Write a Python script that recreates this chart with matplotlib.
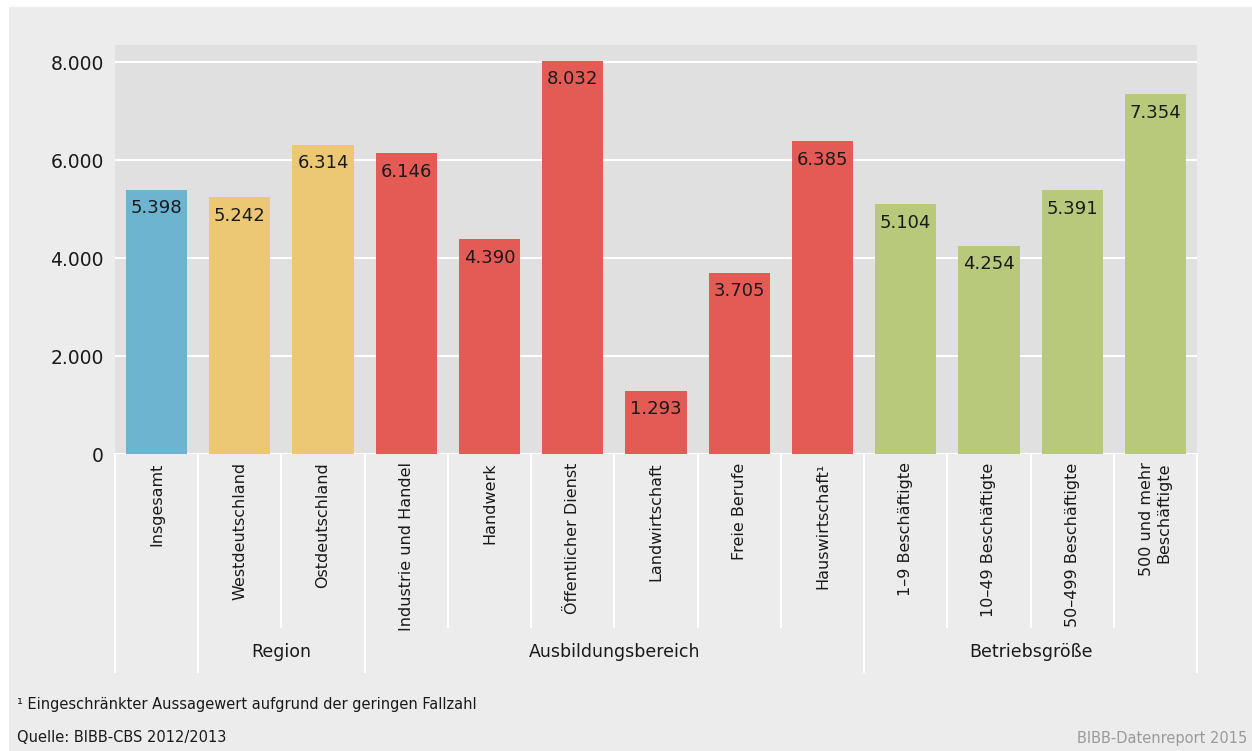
import matplotlib
matplotlib.use("Agg")
import matplotlib.pyplot as plt
from matplotlib import font_manager
from matplotlib.patches import Rectangle
from matplotlib.transforms import blended_transform_factory

# ---- data ----
categories = ["Insgesamt", "Westdeutschland", "Ostdeutschland", "Industrie und Handel",
              "Handwerk", "Öffentlicher Dienst", "Landwirtschaft", "Freie Berufe",
              "Hauswirtschaft\u00b9", "1\u20139 Beschäftigte", "10\u201349 Beschäftigte",
              "50\u2013499 Beschäftigte", "500 und mehr\nBeschäftigte"]
values = [5398, 5242, 6314, 6146, 4390, 8032, 1293, 3705, 6385, 5104, 4254, 5391, 7354]
value_labels = ["5.398", "5.242", "6.314", "6.146", "4.390", "8.032", "1.293", "3.705",
                "6.385", "5.104", "4.254", "5.391", "7.354"]
groups = ["gesamt", "region", "region", "bereich", "bereich", "bereich", "bereich",
          "bereich", "bereich", "groesse", "groesse", "groesse", "groesse"]
group_names = {"region": "Region", "bereich": "Ausbildungsbereich", "groesse": "Betriebsgröße"}
yticks = [0, 2000, 4000, 6000, 8000]
ytick_labels = ["0", "2.000", "4.000", "6.000", "8.000"]

colors = {"gesamt": "#6db4d1", "region": "#ecc874", "bereich": "#e45b56", "groesse": "#b9c97b"}

# ---- font ----
names = {f.name for f in font_manager.fontManager.ttflist}
if "Liberation Sans Narrow" in names:
    plt.rcParams["font.family"] = "Liberation Sans Narrow"
elif "DejaVu Sans Condensed" in names:
    plt.rcParams["font.family"] = "DejaVu Sans Condensed"
else:
    plt.rcParams["font.family"] = "DejaVu Sans"

W, H = 1252, 751
fig = plt.figure(figsize=(W / 100, H / 100), dpi=100, facecolor="white")
fig.patches.append(Rectangle((9 / W, 0), 1 - 9 / W, 1 - 7 / H, transform=fig.transFigure,
                             facecolor="#ececec", edgecolor="none", zorder=-10))

ax = fig.add_axes([115 / W, 1 - 454 / H, (1197 - 115) / W, (454 - 45) / H])
ax.set_zorder(1)
ax.set_facecolor("#e0e0e0")
x = list(range(len(categories)))
ax.bar(x, values, width=0.735, color=[colors[g] for g in groups], zorder=3)
ax.set_xlim(-0.5, len(categories) - 0.5)
ax.set_ylim(0, 8350)
ax.set_yticks(yticks)
ax.set_yticklabels(ytick_labels, fontsize=13.5, color="#1a1a1a")
ax.yaxis.grid(True, color="white", linewidth=1.5, zorder=1)
ax.set_axisbelow(True)
ax.set_xticks(x)
ax.set_xticklabels(categories, rotation=90, fontsize=11.5, color="#1a1a1a",
                   va="top", ha="center", multialignment="right")
ax.tick_params(axis="both", length=0)
ax.tick_params(axis="x", pad=6)
ax.tick_params(axis="y", pad=8)
for s in ax.spines.values():
    s.set_visible(False)

for xi, v, lab in zip(x, values, value_labels):
    ax.annotate(lab, (xi, v), xytext=(0, -7), textcoords="offset points",
                ha="center", va="top", fontsize=13, color="#1a1a1a", zorder=4)

# separator lines below axis
tr = blended_transform_factory(ax.transData, ax.transAxes)
n = len(categories)
for b in range(n + 1):
    xb = b - 0.5
    if b == 0 or b == n or groups[b - 1] != groups[b]:
        y1 = -0.533
    else:
        y1 = -0.423
    ax.plot([xb, xb], [0, y1], color="white", linewidth=1.5, transform=tr, clip_on=False)

# group labels
for key, name in group_names.items():
    idx = [i for i, g in enumerate(groups) if g == key]
    xc = (idx[0] + idx[-1]) / 2
    ax.text(xc, -0.484, name, transform=tr, ha="center", va="center",
            fontsize=12.5, color="#1a1a1a")

fig.text(17 / W, 1 - 705 / H, "\u00b9 Eingeschränkter Aussagewert aufgrund der geringen Fallzahl",
         fontsize=10.5, color="#1a1a1a", va="center", ha="left")
fig.text(17 / W, 1 - 738 / H, "Quelle: BIBB-CBS 2012/2013",
         fontsize=10.5, color="#1a1a1a", va="center", ha="left")
fig.text(1247 / W, 1 - 738 / H, "BIBB-Datenreport 2015",
         fontsize=10.5, color="#9a9a9a", va="center", ha="right")

fig.savefig("out.png", dpi=100, facecolor=fig.get_facecolor())
